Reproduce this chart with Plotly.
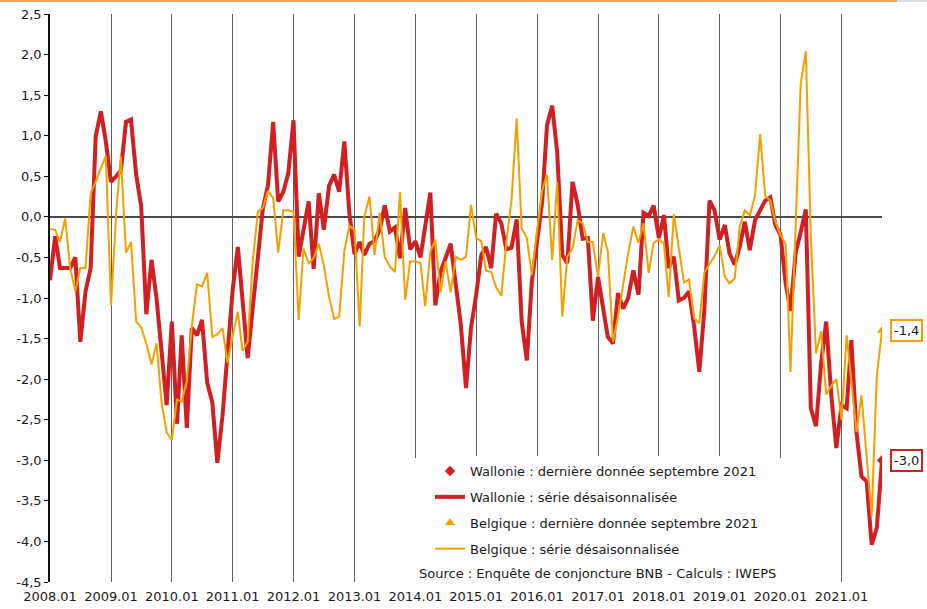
import plotly.graph_objects as go
import pandas as pd

# ---------------- data ----------------
months = pd.date_range("2008-01-01", "2021-09-01", freq="MS")

wallonie = [
    -0.78, -0.24, -0.63, -0.63, -0.63, -0.50, -1.54, -0.92, -0.63, 0.99, 1.30, 0.93,   # 2008
    0.43, 0.50, 0.57, 1.17, 1.20, 0.52, 0.13, -1.20, -0.53, -1.00, -1.74, -2.32,      # 2009
    -1.29, -2.55, -1.46, -2.60, -1.37, -1.46, -1.27, -2.04, -2.29, -3.03, -2.45, -1.75,  # 2010
    -0.90, -0.37, -1.05, -1.74, -1.13, -0.47, 0.10, 0.39, 1.17, 0.19, 0.31, 0.54,     # 2011
    1.19, -0.49, -0.14, 0.19, -0.64, 0.29, -0.16, 0.38, 0.52, 0.31, 0.93, 0.05,       # 2012
    -0.46, -0.31, -0.47, -0.33, -0.30, -0.16, 0.14, -0.18, -0.13, -0.51, 0.11, -0.40, # 2013
    -0.30, -0.50, -0.12, 0.30, -1.09, -0.68, -0.51, -0.33, -0.84, -1.33, -2.11, -1.37, # 2014
    -0.96, -0.47, -0.37, -0.63, 0.04, -0.08, -0.40, -0.38, -0.03, -1.29, -1.77, -0.80, # 2015
    -0.31, 0.19, 1.13, 1.37, 0.80, -0.47, -0.57, 0.43, 0.15, -0.27, -0.26, -1.28,     # 2016
    -0.74, -1.13, -1.48, -1.56, -0.94, -1.13, -1.00, -0.66, -0.96, 0.05, 0.01, 0.14,  # 2017
    -0.26, 0.02, -0.63, -0.49, -1.03, -1.00, -0.92, -1.35, -1.91, -1.15, 0.20, 0.08,  # 2018
    -0.28, -0.10, -0.45, -0.59, -0.37, -0.06, -0.41, -0.04, 0.07, 0.20, 0.24, -0.10,  # 2019
    -0.22, -0.82, -1.16, -0.44, -0.19, 0.09, -2.36, -2.58, -1.80, -1.29, -2.20, -2.85, # 2020
    -2.32, -2.36, -1.52, -2.66, -3.20, -3.26, -4.04, -3.83, -3.00,                    # 2021
]

belgique = [
    -0.15, -0.16, -0.31, -0.02, -0.63, -0.92, -0.63, -0.63, 0.29, 0.43, 0.60, 0.75,   # 2008
    -1.09, 0.04, 0.75, -0.44, -0.31, -1.29, -1.36, -1.56, -1.82, -1.56, -2.30, -2.66, # 2009
    -2.75, -2.25, -2.28, -2.02, -1.35, -0.83, -0.86, -0.69, -1.48, -1.45, -1.37, -1.80, # 2010
    -1.47, -1.17, -1.65, -1.54, -0.55, 0.06, 0.11, 0.32, 0.23, -0.44, 0.08, 0.08,     # 2011
    0.06, -1.27, -0.39, -0.57, -0.51, -0.33, -0.60, -0.98, -1.26, -1.23, -0.42, -0.11, # 2012
    -0.16, -1.35, 0.00, 0.25, -0.47, 0.05, -0.49, -0.61, -0.68, 0.31, -1.02, -0.55,   # 2013
    -0.55, -0.57, -1.10, -0.43, -0.28, -0.93, -0.55, -0.93, -0.49, -0.53, -0.49, 0.15, # 2014
    -0.26, -0.30, -0.66, -0.68, -0.87, -0.97, -0.31, 0.21, 1.21, -0.14, -0.26, -0.72, # 2015
    -0.18, 0.33, 0.52, -0.53, 0.43, -1.23, -0.49, -0.39, -0.04, -0.08, -0.31, -0.31,  # 2016
    -0.74, -0.20, -0.43, -1.54, -1.23, -0.82, -0.45, -0.12, -0.32, -0.08, -0.69, -0.32, # 2017
    -0.28, -0.33, -0.99, 0.03, -0.37, -0.81, -0.77, -1.25, -1.31, -0.69, -0.58, -0.49, # 2018
    -0.35, -0.74, -0.82, -0.76, -0.12, 0.08, 0.02, 0.26, 1.02, 0.26, 0.20, -0.06,     # 2019
    -0.22, -0.34, -1.91, -0.10, 1.64, 2.04, -0.25, -1.68, -1.41, -2.19, -2.08, -2.00, # 2020
    -2.50, -1.46, -2.00, -2.65, -2.20, -2.95, -3.69, -1.95, -1.40,                    # 2021
]

year_labels = ["2008.01", "2009.01", "2010.01", "2011.01", "2012.01", "2013.01", "2014.01",
               "2015.01", "2016.01", "2017.01", "2018.01", "2019.01", "2020.01", "2021.01"]
year_dates = pd.to_datetime([s.replace(".", "-") + "-01" for s in year_labels])

y_ticks = [-4.5, -4.0, -3.5, -3.0, -2.5, -2.0, -1.5, -1.0, -0.5, 0.0, 0.5, 1.0, 1.5, 2.0, 2.5]
y_tick_labels = ["-4,5", "-4,0", "-3,5", "-3,0", "-2,5", "-2,0", "-1,5", "-1,0", "-0,5",
                 "0,0", "0,5", "1,0", "1,5", "2,0", "2,5"]

names = [
    "Wallonie : dernière donnée septembre 2021",
    "Wallonie : série désaisonnalisée",
    "Belgique : dernière donnée septembre 2021",
    "Belgique : série désaisonnalisée",
]
source_text = "Source : Enquête de conjoncture BNB - Calculs : IWEPS"
end_labels = ["-3,0", "-1,4"]   # Wallonie, Belgique (last values)

assert len(wallonie) == len(months) == len(belgique)

RED = "#d11f22"
ORANGE = "#f6a000"
TXT = "#1a1a1a"
FONT = "DejaVu Sans"

fig = go.Figure()

fig.add_trace(go.Scatter(x=months, y=wallonie, mode="lines", name=names[1],
                         line=dict(color=RED, width=4), legendgroup="g2", legendrank=2))
fig.add_trace(go.Scatter(x=months, y=belgique, mode="lines", name=names[3],
                         line=dict(color=ORANGE, width=2), legendgroup="g4", legendrank=4))
fig.add_trace(go.Scatter(x=[months[-1]], y=[wallonie[-1]], mode="markers", name=names[0],
                         marker=dict(symbol="diamond", size=8, color=RED),
                         legendgroup="g1", legendrank=1))
fig.add_trace(go.Scatter(x=[months[-1]], y=[belgique[-1]], mode="markers", name=names[2],
                         marker=dict(symbol="triangle-up", size=9, color=ORANGE),
                         legendgroup="g3", legendrank=3))

W, H = 927, 609
L, R, T, B = 50, 45, 14, 27
pw, ph = W - L - R, H - T - B

def px_x(p):
    return (p - L) / pw

def px_y(p):
    return (H - B - p) / ph

fig.update_layout(
    width=W, height=H,
    margin=dict(l=L, r=R, t=T, b=B, autoexpand=False),
    plot_bgcolor="white", paper_bgcolor="white",
    font=dict(family=FONT, size=13, color=TXT),
    showlegend=True,
    legend=dict(
        x=px_x(430), y=px_y(456), xanchor="left", yanchor="top",
        bgcolor="white", borderwidth=0,
        traceorder="grouped", tracegroupgap=6,
        font=dict(family=FONT, size=13, color=TXT),
    ),
    xaxis=dict(
        type="date", automargin=False,
        range=[months[0], months[-1]],
        tickvals=year_dates, ticktext=year_labels,
        showgrid=True, gridcolor="#5f5f5f", gridwidth=1,
        showline=False, zeroline=False,
        ticks="", ticklabelstandoff=5,
        tickfont=dict(family=FONT, size=13, color=TXT),
    ),
    yaxis=dict(
        automargin=False,
        range=[-4.5, 2.5],
        tickvals=y_ticks, ticktext=y_tick_labels,
        showgrid=False,
        zeroline=True, zerolinecolor="#4a4a4a", zerolinewidth=1.5,
        showline=True, linecolor="#111111", linewidth=1.5,
        ticks="outside", ticklen=4, tickcolor="#111111", tickwidth=1,
        tickfont=dict(family=FONT, size=13, color=TXT),
    ),
    shapes=[
        # white area behind legend block (hides year gridlines)
        dict(type="rect", xref="paper", yref="paper",
             x0=px_x(405), x1=px_x(815), y0=0, y1=px_y(458),
             fillcolor="white", line=dict(width=0), layer="above"),
        # thin orange rule at the top of the page
        dict(type="line", xref="paper", yref="paper",
             x0=px_x(0), x1=px_x(897), y0=px_y(1), y1=px_y(1),
             line=dict(color="#f2a05a", width=2)),
        dict(type="line", xref="paper", yref="paper",
             x0=px_x(897), x1=px_x(927), y0=px_y(1), y1=px_y(1),
             line=dict(color="#bdbdbd", width=1)),
    ],
    annotations=[
        dict(text=source_text, xref="paper", yref="paper",
             x=px_x(417), y=px_y(573), xanchor="left", yanchor="middle",
             showarrow=False, font=dict(family=FONT, size=13, color=TXT)),
        dict(text=end_labels[1],
             x=months[-1], y=belgique[-1], xref="x", yref="y",
             xanchor="left", yanchor="middle", xshift=8, showarrow=False,
             bordercolor=ORANGE, borderwidth=2, borderpad=2, bgcolor="white",
             font=dict(family=FONT, size=13, color=TXT)),
        dict(text=end_labels[0],
             x=months[-1], y=wallonie[-1], xref="x", yref="y",
             xanchor="left", yanchor="middle", xshift=8, showarrow=False,
             bordercolor=RED, borderwidth=2, borderpad=2, bgcolor="white",
             font=dict(family=FONT, size=13, color=TXT)),
    ],
)

fig.write_html("out.html", config={"displayModeBar": False},
               post_script="document.body.style.margin='0px';")
